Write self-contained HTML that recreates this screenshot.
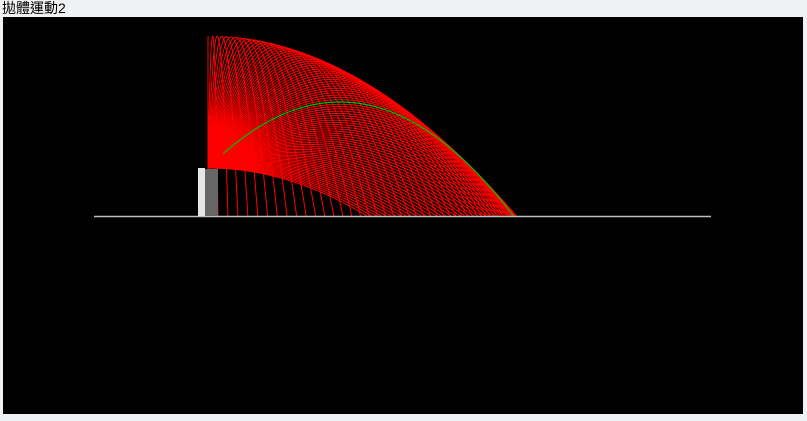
<!DOCTYPE html>
<html><head><meta charset="utf-8">
<style>
html,body{margin:0;padding:0;width:807px;height:421px;background:#f0f1f3;overflow:hidden;font-family:"Liberation Sans","Noto Sans CJK TC",sans-serif}
#title{position:absolute;left:2px;top:0px;font-size:14px;line-height:17px;color:#000}
#cv{position:absolute;left:3px;top:17px}
</style></head><body>
<div id="title">拋體運動2</div>
<svg id="cv" width="800" height="397">
<rect x="0" y="0" width="800" height="397" fill="#000"/>
<g id="traj"></g>
<line x1="91" y1="199.5" x2="708" y2="199.5" stroke="#c0c0c0" stroke-width="1.5"/>
<rect x="195" y="151" width="7" height="48" fill="#e6e6e6"/>
<rect x="202" y="152" width="13" height="47" fill="#666"/>
<g id="hl"></g>
</svg>
<script>
const angles = []; for (let a = 0; a <= 90; a += 1) angles.push(a);
const maxHeight = 132;   // v^2/(2g)
const towerHeight = 48;
const highlightAngle = 45;
const ox = 205, oy = 151, groundY = oy + towerHeight;
function path(deg, startFrac){
  const th = deg*Math.PI/180, k = 2*maxHeight;
  const c = Math.cos(th), s = Math.sin(th);
  const tMax = k*(s + Math.sqrt(s*s + 2*towerHeight/k));
  let d = '';
  const i0 = Math.round((startFrac||0)*400);
  for (let i = i0; i <= 400; i++){
    const t = tMax*i/400;
    const x = ox + t*c, y = oy - (t*s - t*t/(2*k));
    d += (i>i0 ? 'L' : 'M') + x.toFixed(2) + ' ' + Math.min(y, groundY).toFixed(2);
  }
  return d;
}
const ns = 'http://www.w3.org/2000/svg';
const g = document.getElementById('traj');
angles.forEach(a => {
  const p = document.createElementNS(ns, 'path');
  p.setAttribute('d', path(a));
  p.setAttribute('fill', 'none');
  p.setAttribute('stroke', '#f00');
  p.setAttribute('stroke-width', '1');
  
  
  g.appendChild(p);
});
const hp = document.createElementNS(ns, 'path');
hp.setAttribute('d', path(highlightAngle, 0.05));
hp.setAttribute('fill', 'none');
hp.setAttribute('stroke', '#00c000');
hp.setAttribute('stroke-width', '1.2');


document.getElementById('hl').appendChild(hp);
</script>
</body></html>
